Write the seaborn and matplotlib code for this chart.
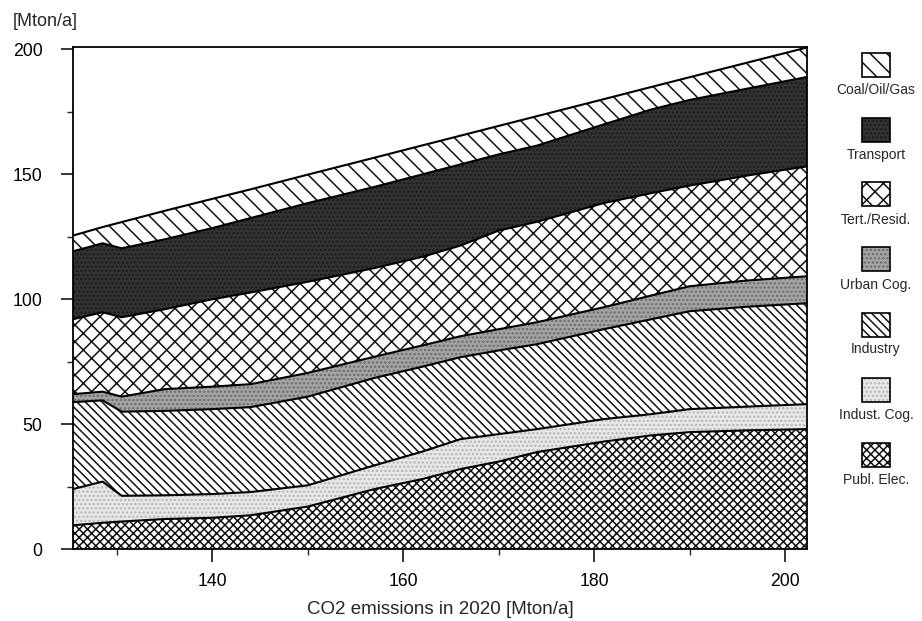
import numpy as np
import pandas as pd
import matplotlib
matplotlib.use("Agg")
import matplotlib.pyplot as plt
from matplotlib.patches import Rectangle
import seaborn as sns

# ---- data ----
co2_2020 = [125.4, 128.5, 130.5, 135, 140, 144, 150, 157, 162, 166, 170, 174, 181, 186, 190, 196, 202.3]
publ_elec = [9.5, 10.5, 11, 12, 12.5, 13.5, 17, 24, 28, 32, 35, 38.8, 43, 45.5, 46.8, 47.5, 48]
indust_cog = [14.5, 16.5, 10.3, 9.5, 9.5, 9.3, 8.5, 9.5, 11, 12, 11, 9.2, 9, 8.5, 9.2, 9.5, 10]
industry = [34.8, 32.5, 33.7, 33.8, 34, 34, 35.5, 35, 34, 32.8, 33.5, 34, 36, 38, 39.2, 40, 40.4]
urban_cog = [3.2, 3.5, 6, 8.7, 9, 9.2, 9.5, 8.5, 8.5, 8.4, 8.5, 8.8, 8.8, 9.5, 10, 10.5, 10.8]
tert_resid = [30, 31.8, 31.8, 32, 35, 36.7, 36.5, 35.5, 35.5, 36.3, 39.5, 40.2, 41.7, 41, 40.3, 42, 44]
transport = [27.2, 27.6, 27.6, 28, 28.5, 29.8, 31.5, 32.5, 33, 32.5, 30.5, 30.5, 31.5, 33.5, 34.3, 34.8, 35.8]
coal_oil_gas = [6.3, 6.5, 10.5, 11.4, 11.7, 11.5, 11.4, 11.7, 11.6, 11.5, 11.4, 11.8, 10.1, 9, 9.1, 10.4, 11.8]

series_names = ["Publ. Elec.", "Indust. Cog.", "Industry", "Urban Cog.",
                "Tert./Resid.", "Transport", "Coal/Oil/Gas"]
series_values = [publ_elec, indust_cog, industry, urban_cog, tert_resid, transport, coal_oil_gas]

x_major = [140, 160, 180, 200]
x_minor = [130, 150, 170, 190]
y_major = [0, 50, 100, 150, 200]
y_minor = [25, 75, 125, 175]

# ---- styles ----
styles = {
    "Publ. Elec.":  dict(fc="white",   hatch="xxxx", hc="#111111"),
    "Indust. Cog.": dict(fc="#e8e8e8", hatch="....", hc="#b4b4b4"),
    "Industry":     dict(fc="white",   hatch="\\\\\\\\", hc="#111111"),
    "Urban Cog.":   dict(fc="#a4a4a4", hatch="....", hc="#6a6a6a"),
    "Tert./Resid.": dict(fc="white",   hatch="xx",   hc="#111111"),
    "Transport":    dict(fc="#333333", hatch="....", hc="#1a1a1a"),
    "Coal/Oil/Gas": dict(fc="white",   hatch="\\\\", hc="#111111"),
}

sns.set_style("ticks")
plt.rcParams["font.family"] = ["Liberation Sans", "DejaVu Sans"]
plt.rcParams["hatch.linewidth"] = 1.1

W, H = 922, 621
fig = plt.figure(figsize=(W / 100, H / 100), dpi=100)
ax = fig.add_axes([73 / W, 1 - 549 / H, (807 - 73) / W, (549 - 47) / H])

x = np.array(co2_2020, dtype=float)
cum = np.cumsum(np.array(series_values, dtype=float), axis=0)
lower = np.zeros_like(x)
for name, upper in zip(series_names, cum):
    st = styles[name]
    ax.fill_between(x, lower, upper, facecolor=st["fc"], hatch=st["hatch"],
                    edgecolor=st["hc"], linewidth=0, zorder=1)
    lower = upper

# boundary lines with seaborn
long_df = pd.DataFrame({
    "x": np.tile(x, len(series_names)),
    "y": cum.ravel(),
    "layer": np.repeat(series_names, len(x)),
})
sns.lineplot(data=long_df, x="x", y="y", units="layer", estimator=None,
             color="black", linewidth=1.5, ax=ax, legend=False, zorder=3)

ax.set_xlim(125.4, 202.3)
ax.set_ylim(0, 201)
ax.set_xticks(x_major)
ax.set_xticks(x_minor, minor=True)
ax.set_yticks(y_major)
ax.set_yticks(y_minor, minor=True)
ax.tick_params(axis="both", which="major", direction="out", length=9, width=1.1,
               labelsize=12.7, colors="black")
ax.tick_params(axis="x", which="major", pad=8.5)
ax.tick_params(axis="y", which="major", pad=13)
ax.tick_params(axis="both", which="minor", direction="out", length=4.5, width=1.0)
for sp in ax.spines.values():
    sp.set_visible(True)
    sp.set_linewidth(1.3)
    sp.set_color("black")
ax.set_xlabel("CO2 emissions in 2020 [Mton/a]", fontsize=13.5, labelpad=8)
ax.set_ylabel("")
fig.text(13 / W, 1 - 22 / H, "[Mton/a]", fontsize=13, va="center", ha="left")

# ---- legend (boxes with label underneath) ----
legend_order = ["Coal/Oil/Gas", "Transport", "Tert./Resid.", "Urban Cog.",
                "Industry", "Indust. Cog.", "Publ. Elec."]
box_w, box_h = 28, 24
cx = 876
for i, name in enumerate(legend_order):
    st = styles[name]
    by = 64.5 + i * 65          # box centre (pixels from top)
    ly = by + 25                # label centre
    xy = ((cx - box_w / 2) / W, 1 - (by + box_h / 2) / H)
    fig.add_artist(Rectangle(xy, box_w / W, box_h / H, transform=fig.transFigure,
                             facecolor=st["fc"], hatch=st["hatch"], edgecolor=st["hc"],
                             linewidth=0))
    fig.add_artist(Rectangle(xy, box_w / W, box_h / H, transform=fig.transFigure,
                             facecolor="none", edgecolor="black", linewidth=1.2))
    fig.text(cx / W, 1 - ly / H, name, fontsize=10, ha="center", va="center")

fig.savefig("out.png", dpi=100)
